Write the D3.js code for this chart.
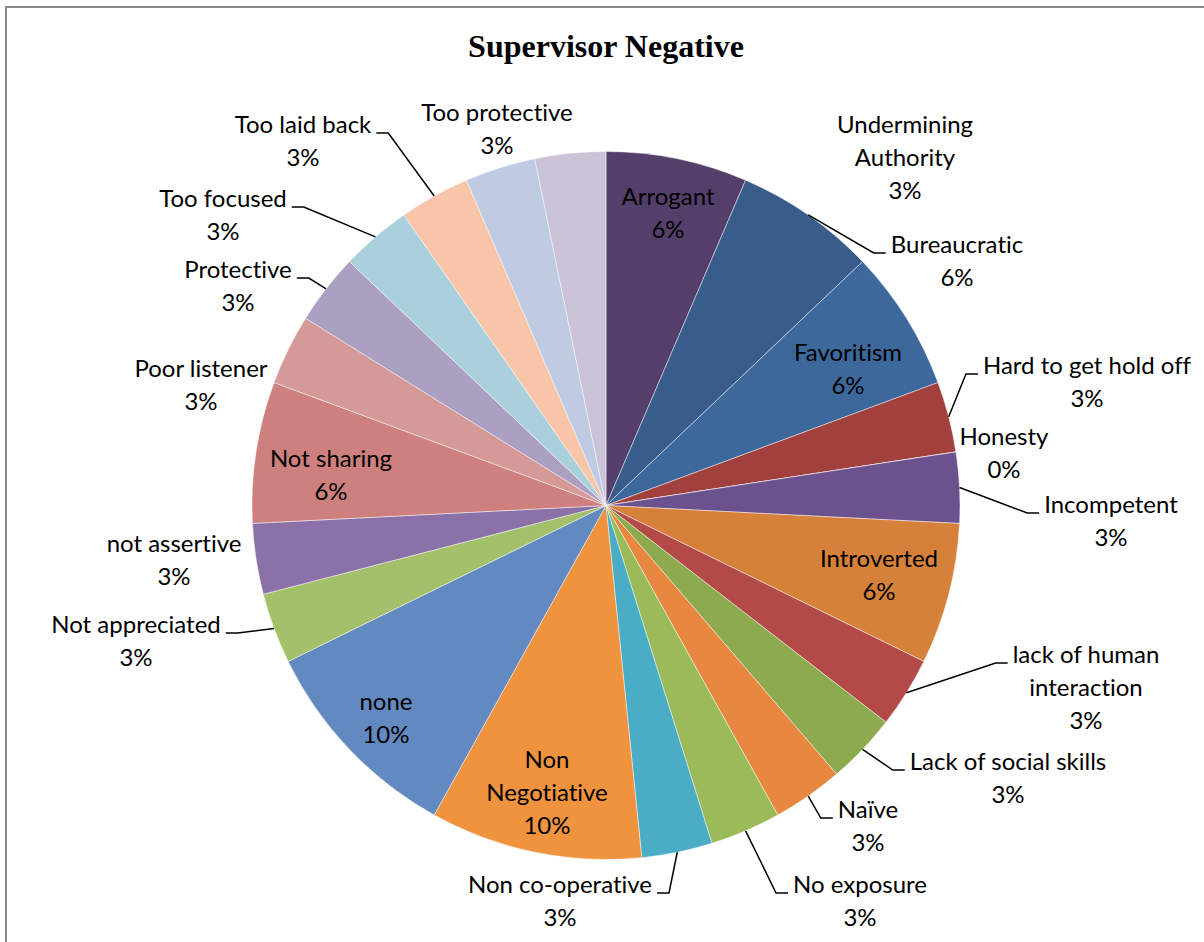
<!DOCTYPE html>
<html>
<head>
<meta charset="utf-8">
<script src="https://cdn.jsdelivr.net/npm/d3@7"></script>
<style>
  body { margin: 0; background: #fff; }
  svg { display: block; }
  .lbl { font-family: Lato, "Open Sans", sans-serif; font-size: 24px; fill: #000;
         font-variant-ligatures: none; }
</style>
</head>
<body>
<div id="chart"></div>
<script>
// one slice per answer, in the sheet's order (clockwise from 12 o'clock)
var categories = ["Arrogant", "Bureaucratic", "Favoritism", "Hard to get hold off", "Honesty",
  "Incompetent", "Introverted", "lack of human\ninteraction", "Lack of social skills", "Naïve",
  "No exposure", "Non co-operative", "Non\nNegotiative", "none", "Not appreciated",
  "not assertive", "Not sharing", "Poor listener", "Protective", "Too focused",
  "Too laid back", "Too protective", "Undermining\nAuthority"];
var responses = [2, 2, 2, 1, 0, 1, 2, 1, 1, 1, 1, 1, 3, 3, 1, 1, 2, 1, 1, 1, 1, 1, 1];

var sliceColors = ["#533F6A", "#385D8A", "#3D689C", "#A2403E", "#6B528F", "#6B528F",
  "#D6813A", "#B34A48", "#8DAA4F", "#E8873F", "#9BBB59", "#4BACC6", "#F0933F",
  "#6389C1", "#A3C06A", "#8A72A9", "#CD807D", "#D59A98", "#ABA0C1", "#AACFDD",
  "#F9C5A9", "#BECBE2", "#CBC3D8"];

// where Excel left each data label: text centre x, first baseline y, leader on/off
var labelLayout = [
  {x: 668, y: 205}, {x: 957, y: 253, leader: true}, {x: 848, y: 361},
  {x: 1087, y: 374, leader: true}, {x: 1004, y: 445}, {x: 1111, y: 513, leader: true},
  {x: 879, y: 567}, {x: 1086, y: 663, leader: true}, {x: 1008, y: 770, leader: true},
  {x: 868, y: 818, leader: true}, {x: 860, y: 893, leader: true}, {x: 560, y: 893, leader: true},
  {x: 547, y: 768}, {x: 386, y: 710}, {x: 136, y: 633, leader: true},
  {x: 174, y: 552}, {x: 331, y: 467}, {x: 201, y: 377},
  {x: 238, y: 278, leader: true}, {x: 223, y: 207, leader: true}, {x: 303, y: 133, leader: true},
  {x: 497, y: 121}, {x: 905, y: 133}
];

var W = 1204, H = 942;
var cx = 606, cy = 505.5, R = 354;
var lineGap = 33;

var svg = d3.select("#chart").append("svg")
  .attr("width", W)
  .attr("height", H);

// chart area frame (only left and top edges fall inside the shot)
svg.append("rect")
  .attr("x", 6).attr("y", 7)
  .attr("width", 1400).attr("height", 1200)
  .attr("fill", "none")
  .attr("stroke", "#898989")
  .attr("stroke-width", 2);

svg.append("text")
  .attr("x", 606)
  .attr("y", 57)
  .attr("text-anchor", "middle")
  .style("font-family", "'Liberation Serif', 'Times New Roman', serif")
  .style("font-weight", "bold")
  .style("font-size", "32px")
  .text("Supervisor Negative");

var total = d3.sum(responses);
var slices = d3.pie().sort(null).value(function(d) { return d; })(responses);
var arc = d3.arc().innerRadius(0).outerRadius(R);

var g = svg.append("g").attr("transform", "translate(" + cx + "," + cy + ")");

g.selectAll("path")
  .data(slices)
  .enter().append("path")
  .attr("d", arc)
  .attr("fill", function(d, i) { return sliceColors[i]; })
  .attr("stroke", "#fff")
  .attr("stroke-opacity", 0.6)
  .attr("stroke-width", 0.75);

// data labels
slices.forEach(function(d, i) {
  var pos = labelLayout[i];
  var pct = Math.round(responses[i] / total * 100) + "%";
  var lines = categories[i].split("\n").concat([pct]);

  var t = svg.append("text")
    .attr("class", "lbl")
    .attr("text-anchor", "middle");
  lines.forEach(function(s, k) {
    t.append("tspan").attr("x", pos.x).attr("y", pos.y + k * lineGap).text(s);
  });

  if (!pos.leader) return;

  var mid = (d.startAngle + d.endAngle) / 2;
  var sx = cx + R * Math.sin(mid), sy = cy - R * Math.cos(mid);
  var firstW = t.select("tspan").node().getComputedTextLength();
  var right = pos.x > sx;
  var ex = right ? pos.x - firstW / 2 - 5 : pos.x + firstW / 2 + 5;
  var elbow = right ? ex - 12 : ex + 12;

  svg.append("path")
    .attr("d", d3.line()([[sx, sy], [elbow, pos.y], [ex, pos.y]]))
    .attr("fill", "none")
    .attr("stroke", "#000")
    .attr("stroke-width", 1.5);
});
</script>
</body>
</html>
